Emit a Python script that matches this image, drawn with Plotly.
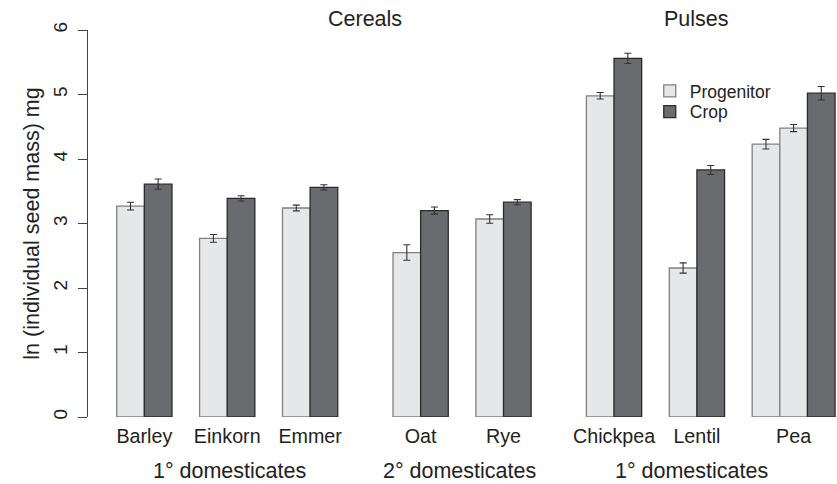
import plotly.graph_objects as go

# ---------------- data ----------------
crops = ["Barley", "Einkorn", "Emmer", "Oat", "Rye", "Chickpea", "Lentil", "Pea"]
crop_group = [0, 0, 0, 1, 1, 2, 2, 2]
group_labels = ["1° domesticates", "2° domesticates", "1° domesticates"]
section_labels = ["Cereals", "Pulses"]

# one entry per bar
bar_crop = ["Barley", "Barley", "Einkorn", "Einkorn", "Emmer", "Emmer",
            "Oat", "Oat", "Rye", "Rye",
            "Chickpea", "Chickpea", "Lentil", "Lentil", "Pea", "Pea", "Pea"]
bar_type = ["Progenitor", "Crop"] * 7 + ["Progenitor", "Progenitor", "Crop"]
bar_value = [3.27, 3.61, 2.77, 3.39, 3.24, 3.56,
             2.55, 3.20, 3.07, 3.33,
             4.98, 5.56, 2.31, 3.83, 4.23, 4.48, 5.02]
bar_err = [0.06, 0.08, 0.06, 0.04, 0.045, 0.04,
           0.12, 0.055, 0.065, 0.04,
           0.05, 0.08, 0.08, 0.07, 0.075, 0.055, 0.105]

y_ticks = [0, 1, 2, 3, 4, 5, 6]
y_title = "ln (individual seed mass) mg"

# ---------------- layout of bars (unit-width bars, gaps between crops) ----------------
positions = []
cursor = 0.0
prev = None
for c in bar_crop:
    if prev is not None and c != prev:
        cursor += 1.0
        if crop_group[crops.index(c)] != crop_group[crops.index(prev)]:
            cursor += 1.0
    positions.append(cursor + 0.5)
    cursor += 1.0
    prev = c

crop_centers = []
for c in crops:
    ps = [p for p, bc in zip(positions, bar_crop) if bc == c]
    crop_centers.append(sum(ps) / len(ps))

group_label_x = [4.1, 12.4, 20.8]
section_label_x = [9.0, 21.0]

FONT = "Liberation Sans, Arial, sans-serif"
TXT = "#222222"

styles = {
    "Progenitor": dict(fill="#e6e7e9", line="#808080", legend="legend"),
    "Crop": dict(fill="#6a6b6f", line="#2a2a2a", legend="legend2"),
}

fig = go.Figure()
for kind in ["Progenitor", "Crop"]:
    xs = [p for p, t in zip(positions, bar_type) if t == kind]
    ys = [v for v, t in zip(bar_value, bar_type) if t == kind]
    es = [e for e, t in zip(bar_err, bar_type) if t == kind]
    fig.add_trace(go.Bar(
        x=xs, y=ys, width=1.0, name=kind, legend=styles[kind]["legend"],
        marker=dict(color=styles[kind]["fill"],
                    line=dict(color=styles[kind]["line"], width=1.3)),
        error_y=dict(type="data", array=es, visible=True,
                     color="#333333", thickness=1.1, width=3.5),
    ))

annotations = []
for lab, x in zip(group_labels, group_label_x):
    annotations.append(dict(x=x, xref="x", y=-0.1404, yref="paper", text=lab,
                            showarrow=False, yanchor="middle",
                            font=dict(family=FONT, size=21.5, color=TXT)))
for lab, x in zip(section_labels, section_label_x):
    annotations.append(dict(x=x, xref="x", y=1.0285, yref="paper", text=lab,
                            showarrow=False, yanchor="middle",
                            font=dict(family=FONT, size=21.5, color=TXT)))

legend_common = dict(xanchor="left", yanchor="top",
                     font=dict(family=FONT, size=17.5, color=TXT),
                     bgcolor="rgba(0,0,0,0)")

fig.update_layout(
    width=837, height=484,
    margin=dict(l=88, r=0, t=30, b=67.3, pad=0),
    paper_bgcolor="white", plot_bgcolor="white",
    barmode="overlay",
    showlegend=True,
    hovermode=False,
    legend=dict(x=0.75, y=0.889, **legend_common),
    legend2=dict(x=0.75, y=0.8354, **legend_common),
    xaxis=dict(range=[-1.039, 26.07], showgrid=False, zeroline=False,
               showline=False, ticks="",
               tickmode="array", tickvals=crop_centers, ticktext=crops,
               ticklabelstandoff=5,
               tickfont=dict(family=FONT, size=19.7, color=TXT)),
    yaxis=dict(range=[0, 6], showgrid=False, zeroline=False,
               showline=True, linecolor="#444444", linewidth=1.2,
               ticks="outside", ticklen=9, tickcolor="#444444", tickwidth=1.2,
               tickmode="array", tickvals=y_ticks,
               tickangle=-90, ticklabelstandoff=3,
               tickfont=dict(family=FONT, size=19, color=TXT),
               title=dict(text=y_title, standoff=4,
                          font=dict(family=FONT, size=21.5, color=TXT))),
    annotations=annotations,
)

fig.write_html("out.html",
               config={"displayModeBar": False},
               post_script="document.body.style.margin='0';document.body.style.overflow='hidden';")
